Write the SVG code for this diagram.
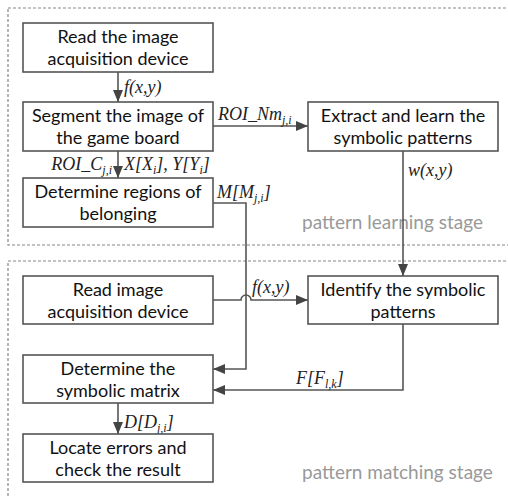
<svg xmlns="http://www.w3.org/2000/svg" width="508" height="496" viewBox="0 0 508 496">
<style>
.box{fill:#fff;stroke:#555;stroke-width:1.6}
.bt{font-family:Lato,"Open Sans",sans-serif;font-size:18px;fill:#111;text-anchor:middle}
.lbl{font-family:"Liberation Serif","Times New Roman",serif;font-style:italic;font-size:18px;fill:#222}
.sub{font-size:12px}
.stage{font-family:Lato,"Open Sans",sans-serif;font-size:19px;fill:#999}
.dash{fill:none;stroke:#888;stroke-width:1.2;stroke-dasharray:3 2}
.con{fill:none;stroke:#555;stroke-width:1.6}
</style>
<defs>
<marker id="ah" viewBox="0 0 12 10" refX="12" refY="5" markerWidth="12" markerHeight="10" markerUnits="userSpaceOnUse" orient="auto">
<path d="M0,0 L12,5 L0,10 z" fill="#444"/>
</marker>
</defs>
<g id="stages">
<rect class="dash" x="8" y="8" width="520" height="237"/>
<rect class="dash" x="8" y="261" width="520" height="260"/>
<text class="stage" x="302" y="229">pattern learning stage</text>
<text class="stage" x="302" y="479">pattern matching stage</text>
</g>
<g id="connectors">
<path class="con" d="M118,72 V102" marker-end="url(#ah)"/>
<path class="con" d="M118,151 V178" marker-end="url(#ah)"/>
<path class="con" d="M213,126 H308" marker-end="url(#ah)"/>
<path class="con" d="M403,151 V276" marker-end="url(#ah)"/>
<path class="con" d="M213,203 H246 V369 H213" marker-end="url(#ah)"/>
<path class="con" d="M213,300 H241 A5,5 0 0 1 251,300 H308" marker-end="url(#ah)"/>
<path class="con" d="M403,324 V390 H213" marker-end="url(#ah)"/>
<path class="con" d="M118,403 V434" marker-end="url(#ah)"/>
<text class="lbl" x="124" y="93">f(x,y)</text>
<text class="lbl" x="112" y="170" text-anchor="end">ROI_C<tspan class="sub" dy="4">j,i</tspan></text>
<text class="lbl" x="124" y="170">X[X<tspan class="sub" dy="4">i</tspan><tspan dy="-4">], Y[Y</tspan><tspan class="sub" dy="4">i</tspan><tspan dy="-4">]</tspan></text>
<text class="lbl" x="218" y="120">ROI_Nm<tspan class="sub" dy="4">j,i</tspan></text>
<text class="lbl" x="408" y="176">w(x,y)</text>
<text class="lbl" x="217" y="198">M[M<tspan class="sub" dy="4">j,i</tspan><tspan dy="-4">]</tspan></text>
<text class="lbl" x="252" y="293">f(x,y)</text>
<text class="lbl" x="296" y="384">F[F<tspan class="sub" dy="4">l,k</tspan><tspan dy="-4">]</tspan></text>
<text class="lbl" x="124" y="428">D[D<tspan class="sub" dy="4">j,i</tspan><tspan dy="-4">]</tspan></text>
</g>
<g id="n1">
<rect class="box" x="23" y="23" width="190" height="49"/>
<text class="bt" x="118" y="43">Read the image</text>
<text class="bt" x="118" y="65">acquisition device</text>
</g>
<g id="n2">
<rect class="box" x="23" y="102" width="190" height="49"/>
<text class="bt" x="118" y="122">Segment the image of</text>
<text class="bt" x="118" y="144">the game board</text>
</g>
<g id="n3">
<rect class="box" x="23" y="178" width="190" height="49"/>
<text class="bt" x="118" y="198">Determine regions of</text>
<text class="bt" x="118" y="220">belonging</text>
</g>
<g id="n4">
<rect class="box" x="308" y="102" width="190" height="49"/>
<text class="bt" x="403" y="122">Extract and learn the</text>
<text class="bt" x="403" y="144">symbolic patterns</text>
</g>
<g id="n5">
<rect class="box" x="23" y="276" width="190" height="48"/>
<text class="bt" x="118" y="296">Read image</text>
<text class="bt" x="118" y="318">acquisition device</text>
</g>
<g id="n6">
<rect class="box" x="308" y="276" width="190" height="48"/>
<text class="bt" x="403" y="296">Identify the symbolic</text>
<text class="bt" x="403" y="318">patterns</text>
</g>
<g id="n7">
<rect class="box" x="23" y="355" width="190" height="48"/>
<text class="bt" x="118" y="375">Determine the</text>
<text class="bt" x="118" y="397">symbolic matrix</text>
</g>
<g id="n8">
<rect class="box" x="23" y="434" width="190" height="48"/>
<text class="bt" x="118" y="454">Locate errors and</text>
<text class="bt" x="118" y="476">check the result</text>
</g>
</svg>
